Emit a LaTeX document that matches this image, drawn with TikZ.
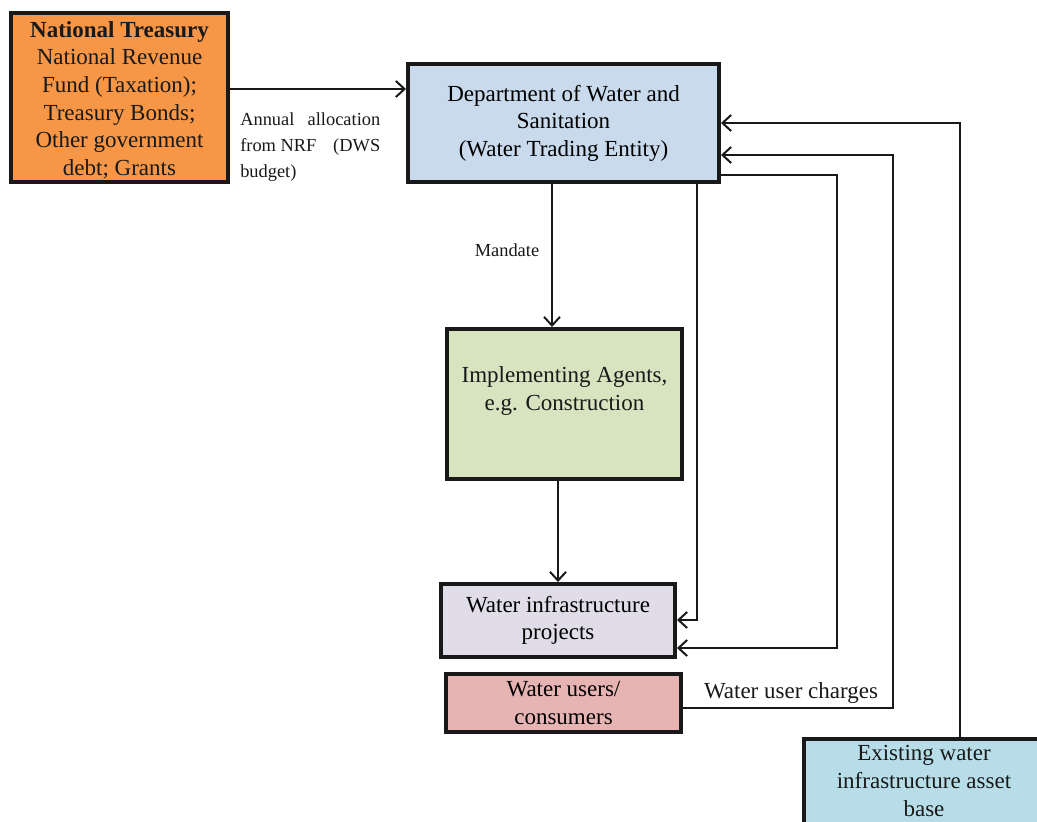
\documentclass[tikz,border=0pt]{standalone}
\usepackage{fontspec}
\setmainfont{Liberation Serif}
\usetikzlibrary{arrows.meta}
\definecolor{ntorange}{HTML}{F79646}
\definecolor{dwsblue}{HTML}{C9DAEC}
\definecolor{aggreen}{HTML}{D8E4BF}
\definecolor{prlav}{HTML}{E0DCE8}
\definecolor{uspink}{HTML}{E6B5B3}
\definecolor{excyan}{HTML}{B7DEE8}
\newcommand{\mainsize}{\fontsize{17.25}{20.7}\selectfont}
\newcommand{\smallsize}{\fontsize{13.8}{19.5}\selectfont}
\begin{document}
\begin{tikzpicture}[x=0.75pt,y=-0.75pt,
  box/.style={draw=black!90, line width=3pt, rectangle, align=center, inner sep=0pt, font=\mainsize},
  txt/.style={align=center, inner sep=0pt, font=\mainsize, text=black!90},
  conn/.style={line width=1.6pt, draw=black!90},
  arr/.style={conn, -{Straight Barb[length=6.5pt,width=12pt,line width=1.5pt]}},
  lbl/.style={inner sep=0pt, font=\smallsize, text=black!90}]
\useasboundingbox (0,0) rectangle (1037,821);
\fill[white] (0,0) rectangle (1037,821);

\node[box, fill=ntorange, minimum width=162.75pt, minimum height=126.75pt] (nt) at (119.5,97.5) {};
\node[txt] (ntt) at (119.5,100)
  {\textbf{National Treasury}\\National Revenue\\Fund (Taxation);\\Treasury Bonds;\\Other government\\debt; Grants};
\node[box, fill=dwsblue, minimum width=233.25pt, minimum height=88.5pt] (dws) at (563.5,123)
  {Department of Water and\\Sanitation\\(Water Trading Entity)};
\node[box, fill=aggreen, minimum width=176.25pt, minimum height=112.5pt] (ag) at (564.5,404) {};
\node[txt] (agt) at (564.5,391) {Implementing Agents,\\e.g. Construction};
\node[box, fill=prlav, minimum width=175.5pt, minimum height=54.75pt] (pr) at (558,620.5)
  {Water infrastructure\\projects};
\node[box, fill=uspink, minimum width=176.25pt, minimum height=43.5pt] (us) at (563.5,703)
  {Water users/\\consumers};
\node[box, fill=excyan, minimum width=180pt, minimum height=66pt] (ex) at (924,783) {};
\node[txt] (ext) at (924,781) {Existing water\\infrastructure asset\\base};

\node[lbl, align=left, anchor=north west] (lab1) at (240,112)
  {\hbox to 105pt{Annual\hfil allocation}\\\hbox to 105pt{from NRF\hfil(DWS}\\budget)};
\node[lbl] (lab2) at (507,250) {Mandate};
\node[lbl, font=\mainsize] (lab3) at (791,693) {Water user charges};

\coordinate (c1) at (837,648);
\coordinate (c2) at (893,155);

\draw[arr] (nt.east |- 0,89) -- (dws.west |- 0,89);
\draw[arr] (dws.south -| 552,0) -- (ag.north -| 552,0);
\draw[arr] (ag.south -| 558,0) -- (pr.north -| 558,0);
\draw[arr] (dws.south -| 697,0) |- (pr.east |- 0,620);
\draw[arr] (dws.east |- 0,175) -| (c1) -- (pr.east |- c1);
\draw[arr] (us.east |- 0,708) -| (c2) -- (dws.east |- c2);
\draw[arr] (ex.north -| 960,0) |- (dws.east |- 0,123);
\end{tikzpicture}
\end{document}
